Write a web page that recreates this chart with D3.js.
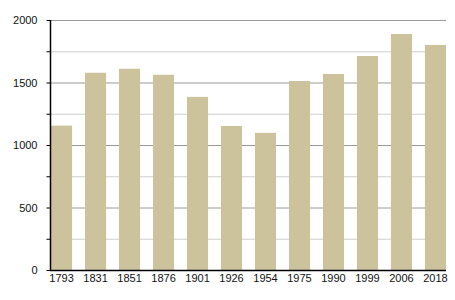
<!DOCTYPE html>
<html>
<head>
<meta charset="utf-8">
<script src="https://cdn.jsdelivr.net/npm/d3@7"></script>
<style>
  body { margin: 0; background: #fff; }
  text { font-family: "Liberation Sans", Arial, sans-serif; }
</style>
</head>
<body>
<div id="chart"></div>
<script>
// Population by census year
const years = ["1793", "1831", "1851", "1876", "1901", "1926", "1954", "1975", "1990", "1999", "2006", "2018"];
const population = [1155, 1578, 1610, 1562, 1385, 1152, 1097, 1512, 1568, 1712, 1888, 1800];
const majorTicks = [0, 500, 1000, 1500, 2000];
const minorTicks = [250, 750, 1250, 1750];

const width = 455;
const height = 300;
const margin = { top: 20, right: 9, bottom: 30, left: 50 };

const svg = d3.select("#chart")
    .append("svg")
    .attr("width", width)
    .attr("height", height);

const x = d3.scaleBand()
    .domain(years)
    .range([margin.left + 1, width - margin.right])
    .paddingInner(0.38)
    .paddingOuter(0);

const y = d3.scaleLinear()
    .domain([0, 2000])
    .range([height - margin.bottom, margin.top]);

// minor grid lines
svg.append("g")
    .selectAll("line")
    .data(minorTicks)
    .join("line")
    .attr("x1", margin.left)
    .attr("x2", width - margin.right)
    .attr("y1", d => y(d) + 0.5)
    .attr("y2", d => y(d) + 0.5)
    .attr("stroke", "#cfcfcf");

// major grid lines
svg.append("g")
    .selectAll("line")
    .data(majorTicks.filter(d => d > 0))
    .join("line")
    .attr("x1", margin.left)
    .attr("x2", width - margin.right)
    .attr("y1", d => y(d) + 0.5)
    .attr("y2", d => y(d) + 0.5)
    .attr("stroke", "#9a9a9a");

// bars
svg.append("g")
    .selectAll("rect")
    .data(years)
    .join("rect")
    .attr("x", d => x(d))
    .attr("y", (d, i) => y(population[i]))
    .attr("width", x.bandwidth())
    .attr("height", (d, i) => y(0) - y(population[i]))
    .attr("fill", "#ccc29b");

// y axis
const yAxis = svg.append("g")
    .attr("transform", `translate(${margin.left + 0.5},0)`)
    .call(d3.axisLeft(y)
        .tickValues(majorTicks.concat(minorTicks))
        .tickSize(4)
        .tickPadding(9)
        .tickFormat(d => majorTicks.includes(d) ? d : ""));
yAxis.select(".domain").attr("d", `M0,${margin.top}V${y(0)}`).attr("stroke", "#000").attr("stroke-width", 1.5);
yAxis.selectAll(".tick line").attr("stroke", "#000");
yAxis.selectAll("text").style("font-size", "11px").attr("fill", "#111");

// x axis
const xAxis = svg.append("g")
    .attr("transform", `translate(0,${y(0) + 0.5})`)
    .call(d3.axisBottom(x).tickSize(0).tickPadding(4));
xAxis.select(".domain").attr("d", `M${margin.left},0H${width - margin.right}`).attr("stroke", "#000").attr("stroke-width", 1.5);
xAxis.selectAll("text").style("font-size", "11px").attr("fill", "#111");
</script>
</body>
</html>
